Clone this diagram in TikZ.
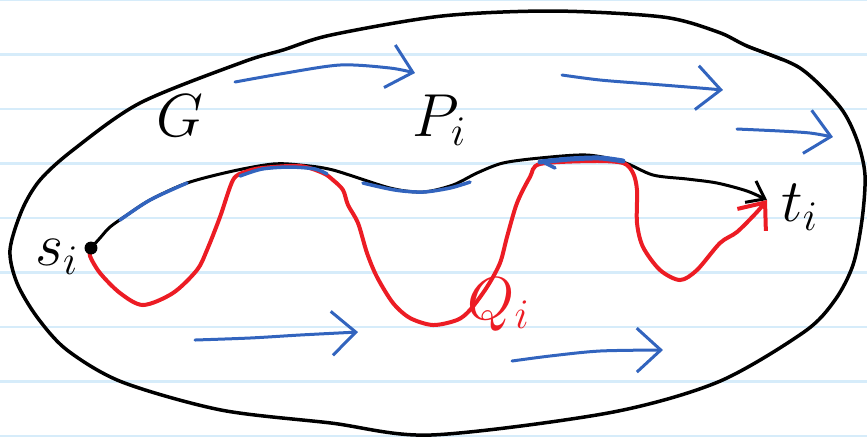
\documentclass[tikz,border=0pt]{standalone}
\usetikzlibrary{arrows.meta}
\definecolor{penblue}{RGB}{50,100,190}
\definecolor{penred}{RGB}{236,28,36}
\definecolor{ruleblue}{RGB}{214,236,250}

\begin{document}
\begin{tikzpicture}[x=0.1mm, y=-0.1mm,
		rule/.style={ruleblue, line width=0.25mm},
		flow/.style={penblue, line width=0.3mm, line cap=round, -{Straight Barb[length=2.4mm, width=4.4mm]}},
		hilite/.style={penblue, line width=0.35mm, line cap=round},
		lbl/.style={font=\fontsize{18}{21}\selectfont, inner sep=0pt}]
		\useasboundingbox (0,0) rectangle (867,437);
		\foreach \k in {0,...,8}
			\draw[rule] (0,\k*54.5) -- (867,\k*54.5);
		% the graph G
		\draw[line width=0.35mm] plot[smooth cycle] coordinates {(553,11) (663,17) (718,32) (747,46) (800,68) (840,107) (857,140) (865,175) (862,220) (853,265) (835,300) (804,332) (718,382) (608,413) (431,435) (331,423) (221,410) (122,382) (67,350) (37,317) (17,283) (10,250) (22,210) (40,180) (73,150) (140,103) (243,62) (283,50) (331,35) (442,16)};
		\draw[line width=0.3mm] (747,46) -- (783,60);
		% end points
		\coordinate (si) at (91,248);
		\coordinate (ti) at (767,200);
		% flow arrows
		\draw[flow] plot[smooth] coordinates {(235,82) (280,74) (340,65) (390,68) (415,73)};
		\draw[flow] plot[smooth] coordinates {(562,75) (600,80) (650,84) (700,88) (723,90)};
		\draw[flow] plot[smooth] coordinates {(737,129) (780,131) (810,133) (833,137)};
		\draw[flow] plot[smooth] coordinates {(195,340) (250,338) (300,335) (358,332)};
		\draw[flow] plot[smooth] coordinates {(512,361) (550,356) (600,351) (663,350)};
		% path P_i
		\draw[line width=0.3mm, line cap=round, -{Straight Barb[length=1.6mm, width=2.4mm]}] plot[smooth] coordinates {(si) (100,238) (110,227) (127,215) (150,200) (187,183) (233,171) (273,164) (300,165) (333,170) (390,188) (423,192) (453,185) (477,173) (503,163) (540,158) (587,155) (623,162) (653,175) (687,179) (717,183) (747,191) (ti)};
		% path Q_i
		\draw[penred, line width=0.4mm, line cap=round, -{Straight Barb[length=2.2mm, width=3.6mm]}] plot[smooth] coordinates {(si) (90,256) (100,273) (120,293) (143,305) (173,293) (197,270) (207,250) (220,217) (233,180) (245,172) (262,168) (300,166) (323,173) (333,180) (343,190) (348,205) (358,223) (367,253) (377,277) (393,303) (410,318) (433,325) (457,320) (470,310) (487,287) (500,263) (507,237) (517,203) (530,177) (540,164) (593,161) (623,163) (633,173) (637,190) (637,223) (643,247) (660,270) (680,280) (697,270) (720,243) (737,232) (757,212) (ti)};
		% shared parts
		\draw[hilite] plot[smooth] coordinates {(120,220) (150,200) (187,183)};
		\draw[hilite] plot[smooth] coordinates {(240,176) (262,169) (290,167) (315,169) (327,174)};
		\draw[hilite] plot[smooth] coordinates {(363,183) (395,190) (423,192) (450,188) (470,182)};
		\draw[hilite, line width=0.5mm] plot[smooth] coordinates {(540,162) (570,159) (600,158) (623,161)};
		\draw[hilite] (545,163) -- (555,168);
		\node[circle, inner sep=1.3pt, fill=black] (sdot) at (si) {};
		% labels
		\node[lbl] (G) at (180,116) {$G$};
		\node[lbl] (P) at (440,120) {$P_i$};
		\node[lbl] (s) at (57,257) {$s_i$};
		\node[lbl] (t) at (800,207) {$t_i$};
		\node[lbl, penred] (Q) at (499,305) {$Q_i$};
\end{tikzpicture}
\end{document}
